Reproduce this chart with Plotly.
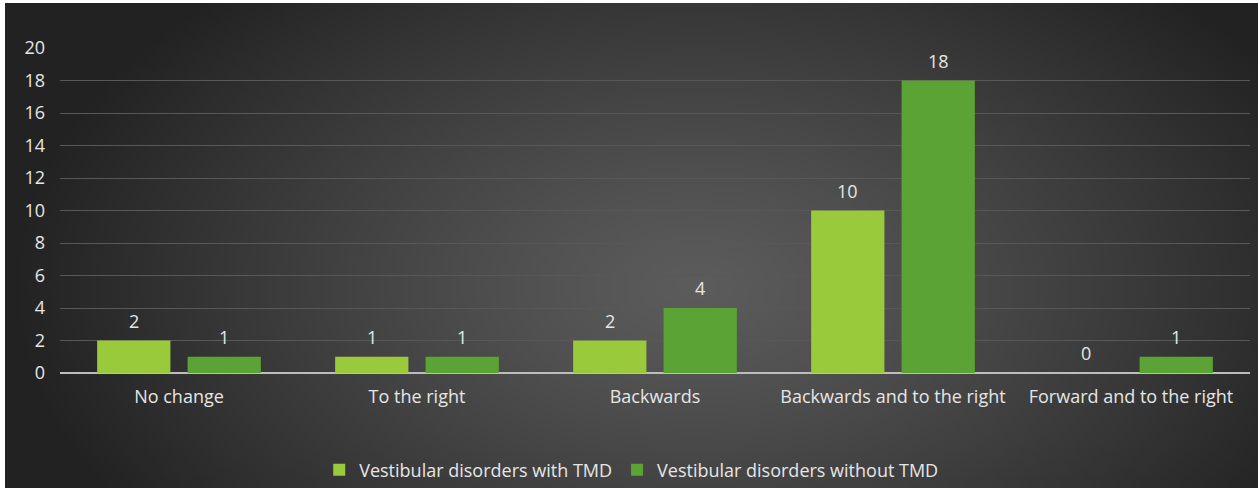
import base64, struct, zlib
import numpy as np
import plotly.graph_objects as go

categories = ["No change", "To the right", "Backwards", "Backwards and to the right", "Forward and to the right"]
with_tmd = [2, 1, 2, 10, 0]
without_tmd = [1, 1, 4, 18, 1]
series_names = ["Vestibular disorders with TMD", "Vestibular disorders without TMD"]
y_ticks = [0, 2, 4, 6, 8, 10, 12, 14, 16, 18, 20]

# ---- background radial gradient (style only) ----
def gradient_png(w, h):
    yy, xx = np.mgrid[0:h, 0:w]
    cx, cy = w * 0.55, h * 0.58
    d = np.sqrt(((xx - cx) / (w * 0.55)) ** 2 + ((yy - cy) / (h * 0.85)) ** 2)
    d = np.clip(d, 0, 1)
    inner, outer = 92.0, 34.0
    v = (inner + (outer - inner) * d ** 1.2).astype(np.uint8)
    raw = b"".join(b"\x00" + bytes(np.repeat(row, 3)) for row in v)
    def chunk(t, data):
        c = struct.pack(">I", len(data)) + t + data
        return c + struct.pack(">I", zlib.crc32(t + data) & 0xffffffff)
    png = b"\x89PNG\r\n\x1a\n" + chunk(b"IHDR", struct.pack(">IIBBBBB", w, h, 8, 2, 0, 0, 0))
    png += chunk(b"IDAT", zlib.compress(raw, 9)) + chunk(b"IEND", b"")
    return "data:image/png;base64," + base64.b64encode(png).decode()

W, H = 1258, 488
L, R, T, B = 60, 8, 48, 115
pw, ph = W - L - R, H - T - B
def px2paper_x(px): return (px - L) / pw
def px2paper_y(py): return (H - B - py) / ph

font = "Open Sans"
FS = 18
txtcol = "#e6e6e6"
BARGAP = 0.24
colors = ["#99ca3b", "#5ba334"]

fig = go.Figure()
for name, vals, col in zip(series_names, [with_tmd, without_tmd], colors):
    fig.add_trace(go.Bar(
        x=categories, y=vals, name=name,
        marker=dict(color=col, line=dict(width=0)),
    ))

# value labels above bars (offset to each bar's slot within the group)
slot_px = (pw / len(categories)) * (1 - BARGAP) / 2
for i, vals in enumerate([with_tmd, without_tmd]):
    shift = (i - 0.5) * slot_px
    for c, v in zip(categories, vals):
        fig.add_annotation(x=c, y=v, text=str(v), showarrow=False, xshift=shift,
                           yanchor="bottom", yshift=6,
                           font=dict(color=txtcol, size=FS, family=font))

x0, x1 = px2paper_x(5), px2paper_x(1258)
y0, y1 = px2paper_y(3), px2paper_y(488)
fig.add_layout_image(dict(
    source=gradient_png(314, 122), xref="paper", yref="paper",
    x=x0, y=y0, sizex=x1 - x0, sizey=y0 - y1,
    xanchor="left", yanchor="top", sizing="stretch", layer="below",
))

fig.update_layout(
    width=W, height=H,
    margin=dict(l=L, r=R, t=T, b=B, autoexpand=False),
    paper_bgcolor="#ffffff", plot_bgcolor="rgba(0,0,0,0)",
    barmode="group", bargap=BARGAP, bargroupgap=0.19,
    font=dict(family=font, color=txtcol, size=FS),
    showlegend=True,
    legend=dict(orientation="h", x=0.48, xanchor="center", y=px2paper_y(470), yanchor="middle",
                font=dict(size=FS, color=txtcol), bgcolor="rgba(0,0,0,0)",
                itemwidth=30, traceorder="normal"),
    xaxis=dict(showgrid=False, showline=False, ticks="", tickfont=dict(size=FS, color=txtcol),
               ticklabelstandoff=11),
    yaxis=dict(range=[0, 20], tickvals=y_ticks, showgrid=True, gridcolor="#585858", gridwidth=1,
               zeroline=True, zerolinecolor="#bdbdbd", zerolinewidth=2, showline=False,
               tickfont=dict(size=FS, color=txtcol), ticklabelstandoff=14),
)
fig.write_html("out.html", config={"displayModeBar": False},
               post_script="document.body.style.margin='0';")
